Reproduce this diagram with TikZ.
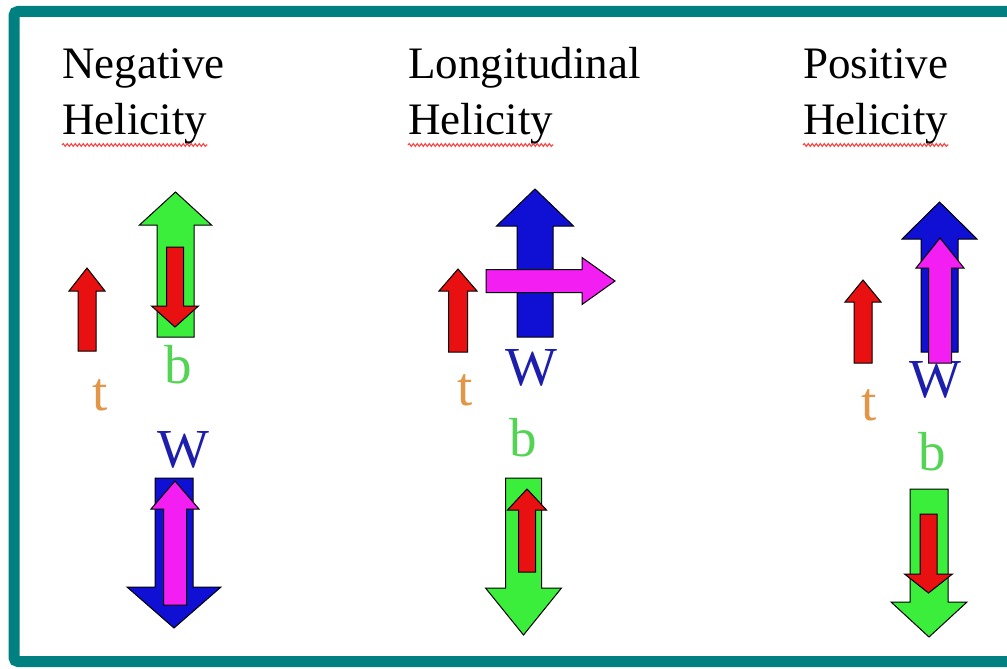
\documentclass[tikz,border=0pt]{standalone}
\usepackage{fontspec}
\setmainfont{Liberation Serif}
\usetikzlibrary{calc,decorations.pathmorphing}

\definecolor{frameteal}{RGB}{0,128,128}
\definecolor{tred}{RGB}{232,16,16}
\definecolor{bgreen}{RGB}{60,238,60}
\definecolor{wblue}{RGB}{16,16,212}
\definecolor{spinpink}{RGB}{242,30,242}
\definecolor{torange}{RGB}{226,150,72}
\definecolor{blabel}{RGB}{84,212,84}
\definecolor{wlabel}{RGB}{30,30,172}

\tikzset{
	spin/.style = {
		draw=black, 
		line width=1pt, 
		line join=miter
	},
	title/.style = {
		anchor=base west, 
		inner sep=0pt, 
		font=\fontsize{45}{45}\selectfont
	},
	particle/.style = {
		inner sep=0pt, 
		font=\fontsize{55}{55}\selectfont
	},
	squiggle/.style = {
		draw=red!65!pink, 
		line width=1.1pt, 
		decorate, 
		decoration={snake, amplitude=1.4pt, segment length=4pt}
	}
}

% block arrow: colour, tail, direction, length, half shaft, half head, head length
\newcommand{\spinarrow}[7]{%
	\draw[spin, fill=#1, shift={#2}, rotate=#3]
	(0,-#5) -- ({#4-#7},-#5) -- ({#4-#7},-#6) -- (#4,0)
	-- ({#4-#7},#6) -- ({#4-#7},#5) -- (0,#5) -- cycle;}

\begin{document}
\begin{tikzpicture}[x=1pt, y=-1pt]
	
	% --- Marco ---
	\useasboundingbox (0,0) rectangle (1007,669);
	\clip (0,0) rectangle (1007,669);
	\fill[white] (0,0) rectangle (1007,669);
	\draw[frameteal, line width=11pt, rounded corners=4pt] (14,11.5) rectangle (1030,661.5);
	
	% --- Titulos ---
	\node[title] (neg) at (62,78) {Negative};
	\node[title] (neghel) at (62,134) {Helicity};
	\node[title] (lon) at (408,78) {Longitudinal};
	\node[title] (lonhel) at (408,134) {Helicity};
	\node[title] (pos) at (803,78) {Positive};
	\node[title] (poshel) at (803,134) {Helicity};
	
	\draw[squiggle] ($(neghel.base west)+(0,11)$) -- ($(neghel.base east)+(0,11)$);
	\draw[squiggle] ($(lonhel.base west)+(0,11)$) -- ($(lonhel.base east)+(0,11)$);
	\draw[squiggle] ($(poshel.base west)+(0,11)$) -- ($(poshel.base east)+(0,11)$);
	
	% --- Particulas ---
	\node[particle, torange] (tneg) at (100,395) {t};
	\node[particle, blabel] (bneg) at (178,365) {b};
	\node[particle, wlabel] (wneg) at (183,450) {W};
	
	\node[particle, torange] (tlon) at (465,390) {t};
	\node[particle, wlabel] (wlon) at (531,368) {W};
	\node[particle, blabel] (blon) at (523,438) {b};
	
	\node[particle, torange] (tpos) at (869,405) {t};
	\node[particle, wlabel] (wpos) at (935,380) {W};
	\node[particle, blabel] (bpos) at (932,452) {b};
	
	% --- Negative: spins ---
	\spinarrow{tred}{(87,351)}{90}{83}{9}{18}{23}
	\spinarrow{bgreen}{(175.5,337)}{90}{145}{18.5}{36}{33}
	\spinarrow{tred}{(175,247)}{-90}{80}{8.5}{23.5}{21}
	\spinarrow{wblue}{(174,478)}{-90}{150}{19}{47}{41}
	\spinarrow{spinpink}{(175,605)}{90}{124}{11.5}{24}{28}
	
	% --- Longitudinal: spins ---
	\spinarrow{tred}{(458,352)}{90}{83}{9.5}{19}{22}
	\spinarrow{wblue}{(535,337)}{90}{148}{18}{38.5}{37}
	\spinarrow{spinpink}{(486,281)}{0}{129}{11.5}{23.5}{33}
	\spinarrow{bgreen}{(523.5,478)}{-90}{157}{18}{38}{47}
	\spinarrow{tred}{(527,572)}{90}{83}{8.5}{19.5}{21}
	
	% --- Positive: spins ---
	\spinarrow{tred}{(863,363)}{90}{83}{9}{18}{22}
	\spinarrow{wblue}{(939.5,352)}{90}{150}{18.5}{37.5}{37}
	\spinarrow{spinpink}{(940,363)}{90}{125}{11.5}{24}{30}
	\spinarrow{bgreen}{(929,489)}{-90}{148}{19}{38}{35}
	\spinarrow{tred}{(928.5,514)}{-90}{79}{8.5}{24}{19}
	
\end{tikzpicture}
\end{document}
